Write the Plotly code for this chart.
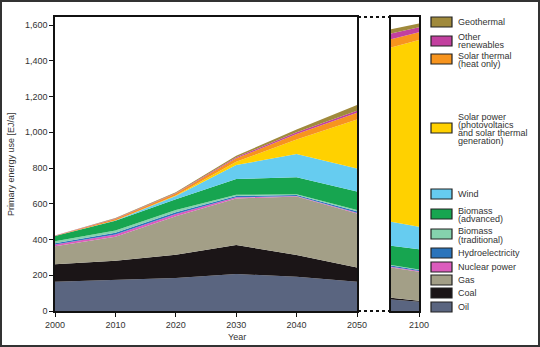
import plotly.graph_objects as go

years = [2000, 2010, 2020, 2030, 2040, 2050]
years_late = [2090, 2100]

series_names = ["Oil", "Coal", "Gas", "Nuclear power", "Hydroelectricity",
                "Biomass (traditional)", "Biomass (advanced)", "Wind",
                "Solar power", "Solar thermal", "Other renewables", "Geothermal"]

oil = [164, 173, 185, 207, 192, 164]
coal = [97, 108, 130, 162, 121, 80]
gas = [101, 135, 215, 261, 327, 302]
nuclear = [10, 12, 13, 6, 3, 4]
hydro = [7, 10, 10, 8, 6, 8]
bio_trad = [11, 12, 12, 6, 4, 7]
bio_adv = [30, 55, 60, 88, 95, 103]
wind = [0, 2, 18, 79, 130, 130]
solar_power = [0, 0, 3, 18, 82, 274]
solar_thermal = [1, 8, 11, 19, 30, 37]
other_ren = [1, 2, 3, 6, 10, 11]
geothermal = [1, 3, 5, 8, 16, 32]

oil_late = [65, 52]
coal_late = [9, 6]
gas_late = [170, 162]
nuclear_late = [4, 4]
hydro_late = [7, 5]
bio_trad_late = [3, 3]
bio_adv_late = [107, 113]
wind_late = [135, 127]
solar_power_late = [975, 1044]
solar_thermal_late = [45, 43]
other_ren_late = [33, 28]
geothermal_late = [23, 22]

y_ticks = [0, 200, 400, 600, 800, 1000, 1200, 1400, 1600]

legend_order = ["Geothermal", "Other renewables", "Solar thermal", "Solar power",
                "Wind", "Biomass (advanced)", "Biomass (traditional)",
                "Hydroelectricity", "Nuclear power", "Gas", "Coal", "Oil"]
legend_lines = [["Geothermal"], ["Other", "renewables"], ["Solar thermal", "(heat only)"],
                ["Solar power", "(photovoltaics", "and solar thermal", "generation)"],
                ["Wind"], ["Biomass", "(advanced)"], ["Biomass", "(traditional)"],
                ["Hydroelectricity"], ["Nuclear power"], ["Gas"], ["Coal"], ["Oil"]]

colors = {
    "Oil": "#5a6580", "Coal": "#1b1517", "Gas": "#a39f87",
    "Nuclear power": "#dc5cbd", "Hydroelectricity": "#2a74bb",
    "Biomass (traditional)": "#85d2ad", "Biomass (advanced)": "#17a550",
    "Wind": "#66ccf0", "Solar power": "#ffd100", "Solar thermal": "#f7941e",
    "Other renewables": "#c2409f", "Geothermal": "#a08a3c",
}

early = [oil, coal, gas, nuclear, hydro, bio_trad, bio_adv, wind,
         solar_power, solar_thermal, other_ren, geothermal]
late = [oil_late, coal_late, gas_late, nuclear_late, hydro_late, bio_trad_late,
        bio_adv_late, wind_late, solar_power_late, solar_thermal_late,
        other_ren_late, geothermal_late]

fig = go.Figure()
for name, vals in zip(series_names, early):
    fig.add_trace(go.Scatter(x=years, y=vals, name=name, stackgroup="a",
                             mode="lines", line=dict(width=0),
                             fillcolor=colors[name], showlegend=False,
                             xaxis="x", yaxis="y"))
for name, vals in zip(series_names, late):
    fig.add_trace(go.Scatter(x=years_late, y=vals, name=name, stackgroup="b",
                             mode="lines", line=dict(width=0),
                             fillcolor=colors[name], showlegend=False,
                             xaxis="x2", yaxis="y2"))

W, H = 540, 347
ml, mr, mt, mb = 55, 121, 17, 36
pw, ph = W - ml - mr, H - mt - mb

def px(x):
    return (x - ml) / pw

def py(y):
    return (H - mb - y) / ph

font = "Liberation Sans, Arial, sans-serif"
txt = "#333333"

axis_common = dict(showline=True, linecolor="#111111", linewidth=1.5,
                   mirror=True, showgrid=False, zeroline=False,
                   ticks="outside", ticklen=4, tickwidth=1.2, tickcolor="#111111",
                   tickfont=dict(family=font, size=9, color=txt))

fig.update_layout(
    width=W, height=H,
    margin=dict(l=ml, r=mr, t=mt, b=mb),
    paper_bgcolor="white", plot_bgcolor="white",
    xaxis=dict(domain=[0, px(357)], range=[2000, 2050],
               tickvals=years, **axis_common),
    xaxis2=dict(domain=[px(391), 1], range=[2090, 2100], anchor="y2",
                tickvals=[2100], **axis_common),
    yaxis=dict(range=[0, 1645], tickvals=y_ticks, tickformat=",d",
               anchor="x", **axis_common),
    yaxis2=dict(range=[0, 1645], anchor="x2", showline=True, linecolor="#111111",
                linewidth=1.5, mirror=True, showgrid=False, zeroline=False,
                showticklabels=False, ticks=""),
    showlegend=False,
)

shapes = []
for yv in [0, 1]:
    shapes.append(dict(type="line", xref="paper", yref="paper",
                       x0=px(358), x1=px(390), y0=yv, y1=yv,
                       line=dict(color="#111111", width=2, dash="dot")))
shapes.append(dict(type="rect", xref="paper", yref="paper",
                   x0=px(1), x1=px(W - 1), y0=py(H - 1), y1=py(1),
                   line=dict(color="#333333", width=2), fillcolor="rgba(0,0,0,0)"))

swatch_y = [22, 41, 59, 128, 194, 214, 234, 253, 267, 280, 293, 307]
text_y = [[22], [37, 45], [56, 64], [116.5, 124.5, 132.5, 140.5], [194],
          [210.5, 219], [231, 239.5], [253], [267], [280], [293], [307]]

annotations = []
for name, lines, ys, yc in zip(legend_order, legend_lines, text_y, swatch_y):
    shapes.append(dict(type="rect", xref="paper", yref="paper",
                       x0=px(431), x1=px(452), y0=py(yc + 5), y1=py(yc - 5),
                       line=dict(color="#222222", width=1.2),
                       fillcolor=colors[name]))
    for line_txt, yl in zip(lines, ys):
        annotations.append(dict(text=line_txt, xref="paper", yref="paper",
                                x=px(457), y=py(yl), xanchor="left", yanchor="middle",
                                showarrow=False, align="left", borderpad=0,
                                font=dict(family=font, size=9, color=txt)))

annotations.append(dict(text="Year", xref="paper", yref="paper", x=px(237),
                        y=py(337), xanchor="center", yanchor="middle",
                        showarrow=False, font=dict(family=font, size=9, color=txt)))
annotations.append(dict(text="Primary energy use [EJ/a]", xref="paper", yref="paper",
                        x=px(11), y=py(164), xanchor="center", yanchor="middle",
                        textangle=-90, showarrow=False,
                        font=dict(family=font, size=9, color=txt)))

fig.update_layout(shapes=shapes, annotations=annotations)
fig.write_html("out.html")
